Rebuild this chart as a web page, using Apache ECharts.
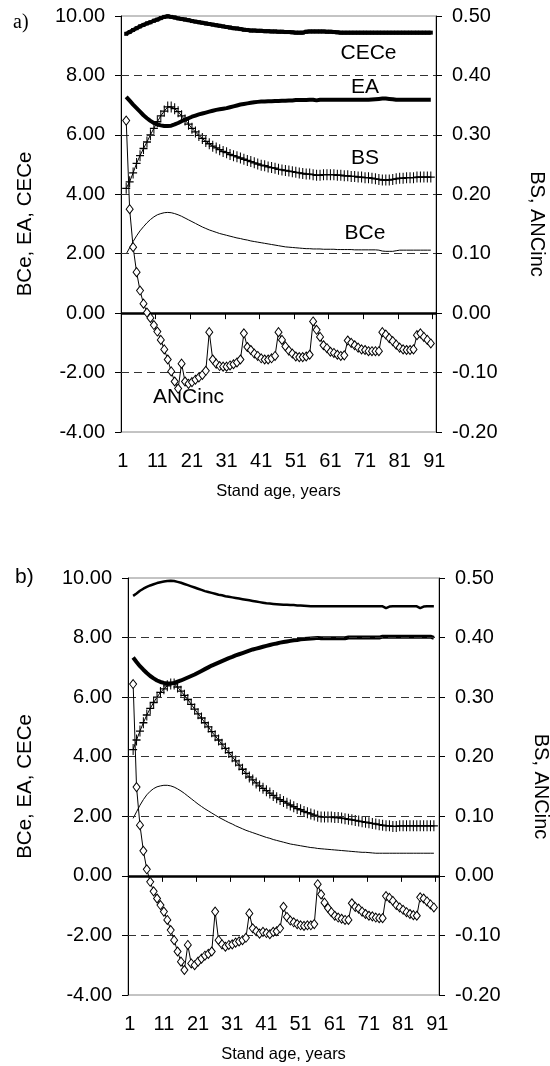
<!DOCTYPE html>
<html>
<head>
<meta charset="utf-8">
<script src="https://cdn.jsdelivr.net/npm/echarts@6/dist/echarts.min.js"></script>
<style>
html,body{margin:0;padding:0;background:#fff;}
#chart{width:550px;height:1066px;}
</style>
</head>
<body>
<div id="chart"></div>
<script>
// ---- data ----
const ages = Array.from({length: 91}, (_, i) => String(i + 1)); // categories 1..91
const xTickLabels = ['1','11','21','31','41','51','61','71','81','91'];

// Panel a) values for stand ages 2..90
const cece_a = [9.40,9.46,9.53,9.59,9.65,9.70,9.75,9.79,9.84,9.88,
  9.93,9.97,9.99,9.97,9.95,9.92,9.90,9.88,9.86,9.83,
  9.81,9.79,9.77,9.75,9.73,9.71,9.69,9.67,9.65,9.63,
  9.61,9.59,9.58,9.56,9.54,9.53,9.51,9.51,9.50,9.50,
  9.49,9.49,9.48,9.48,9.47,9.47,9.46,9.46,9.45,9.44,
  9.44,9.44,9.47,9.48,9.48,9.48,9.48,9.48,9.47,9.47,
  9.46,9.45,9.44,9.44,9.44,9.44,9.44,9.44,9.44,9.44,
  9.44,9.44,9.44,9.44,9.44,9.44,9.44,9.44,9.44,9.44,
  9.44,9.44,9.44,9.44,9.44,9.44,9.44,9.44,9.44];
const ea_a = [7.28,7.15,7.02,6.90,6.78,6.66,6.56,6.47,6.40,6.35,
  6.32,6.30,6.30,6.31,6.35,6.40,6.46,6.51,6.56,6.61,
  6.65,6.69,6.72,6.75,6.78,6.81,6.84,6.86,6.88,6.90,
  6.93,6.96,6.99,7.02,7.04,7.06,7.08,7.10,7.11,7.12,
  7.12,7.13,7.13,7.14,7.14,7.15,7.15,7.16,7.16,7.17,
  7.17,7.17,7.17,7.18,7.18,7.16,7.18,7.18,7.18,7.18,
  7.18,7.18,7.18,7.18,7.18,7.18,7.18,7.18,7.18,7.18,
  7.18,7.19,7.20,7.21,7.22,7.22,7.21,7.20,7.18,7.18,
  7.18,7.18,7.18,7.18,7.18,7.18,7.18,7.18,7.18];
const bs_a = [0.210,0.221,0.236,0.252,0.265,0.277,0.288,0.300,0.311,0.322,
  0.332,0.340,0.347,0.347,0.344,0.339,0.332,0.325,0.318,0.311,
  0.305,0.299,0.294,0.289,0.285,0.281,0.278,0.275,0.272,0.270,
  0.267,0.265,0.263,0.261,0.259,0.257,0.255,0.253,0.251,0.249,
  0.248,0.246,0.245,0.244,0.242,0.241,0.240,0.239,0.238,0.237,
  0.236,0.235,0.234,0.234,0.233,0.232,0.232,0.233,0.233,0.233,
  0.233,0.232,0.232,0.231,0.231,0.230,0.230,0.229,0.229,0.228,
  0.228,0.227,0.226,0.225,0.224,0.224,0.224,0.225,0.226,0.227,
  0.227,0.228,0.228,0.228,0.229,0.229,0.229,0.229,0.229];
const bce_a = [1.99,2.20,2.41,2.60,2.77,2.91,3.04,3.15,3.24,3.31,
  3.35,3.38,3.39,3.38,3.35,3.31,3.26,3.20,3.14,3.08,
  3.02,2.96,2.90,2.85,2.80,2.76,2.72,2.68,2.65,2.62,
  2.59,2.56,2.53,2.51,2.48,2.46,2.43,2.41,2.39,2.37,
  2.35,2.33,2.31,2.29,2.27,2.25,2.23,2.22,2.21,2.20,
  2.19,2.18,2.17,2.17,2.16,2.16,2.16,2.15,2.15,2.15,
  2.15,2.14,2.14,2.14,2.14,2.14,2.13,2.13,2.13,2.13,
  2.13,2.13,2.13,2.12,2.09,2.08,2.08,2.08,2.10,2.12,
  2.12,2.12,2.12,2.12,2.12,2.12,2.12,2.12,2.12];
const anc_a = [0.324,0.175,0.111,0.069,0.038,0.016,0.001,-0.008,-0.020,-0.031,
  -0.045,-0.061,-0.078,-0.098,-0.115,-0.127,-0.085,-0.115,-0.119,-0.116,
  -0.112,-0.108,-0.104,-0.097,-0.032,-0.078,-0.085,-0.089,-0.090,-0.090,
  -0.088,-0.086,-0.083,-0.078,-0.034,-0.057,-0.062,-0.068,-0.072,-0.076,
  -0.078,-0.078,-0.076,-0.072,-0.032,-0.045,-0.056,-0.063,-0.068,-0.073,
  -0.074,-0.074,-0.073,-0.070,-0.014,-0.028,-0.040,-0.054,-0.059,-0.065,
  -0.067,-0.070,-0.072,-0.071,-0.046,-0.050,-0.054,-0.058,-0.061,-0.062,
  -0.064,-0.064,-0.064,-0.064,-0.032,-0.036,-0.042,-0.047,-0.053,-0.058,
  -0.061,-0.062,-0.062,-0.061,-0.037,-0.034,-0.040,-0.045,-0.051];

// Panel b) values for stand ages 2..90
const cece_b = [9.40,9.48,9.57,9.64,9.70,9.75,9.79,9.83,9.86,9.88,
  9.90,9.91,9.90,9.87,9.84,9.80,9.76,9.72,9.68,9.64,
  9.60,9.56,9.53,9.50,9.47,9.44,9.42,9.39,9.37,9.35,
  9.33,9.31,9.29,9.27,9.25,9.23,9.21,9.19,9.17,9.15,
  9.14,9.13,9.12,9.11,9.10,9.10,9.09,9.09,9.08,9.08,
  9.07,9.06,9.05,9.05,9.05,9.05,9.05,9.05,9.05,9.05,
  9.05,9.05,9.05,9.05,9.05,9.05,9.05,9.05,9.05,9.05,
  9.05,9.05,9.05,9.05,8.99,9.04,9.05,9.05,9.05,9.05,
  9.05,9.05,9.05,9.05,8.99,9.04,9.05,9.05,9.05];
const ea_b = [7.33,7.18,7.04,6.92,6.81,6.71,6.63,6.56,6.51,6.48,
  6.46,6.46,6.48,6.52,6.56,6.61,6.66,6.71,6.76,6.82,
  6.88,6.94,7.00,7.06,7.11,7.16,7.21,7.26,7.31,7.35,
  7.40,7.44,7.48,7.52,7.56,7.60,7.63,7.66,7.69,7.72,
  7.75,7.78,7.80,7.83,7.85,7.87,7.89,7.91,7.92,7.94,
  7.95,7.96,7.97,7.98,7.99,7.98,7.98,7.98,7.98,7.98,
  7.98,7.98,7.98,8.00,8.00,8.00,8.00,8.00,8.00,8.00,
  8.00,8.00,8.00,8.03,8.03,8.03,8.03,8.03,8.03,8.03,
  8.03,8.03,8.03,8.03,8.03,8.03,8.03,8.03,7.99];
const bs_b = [0.212,0.228,0.243,0.257,0.270,0.281,0.291,0.300,0.308,0.314,
  0.319,0.322,0.322,0.317,0.310,0.303,0.296,0.288,0.280,0.272,
  0.265,0.257,0.250,0.242,0.235,0.228,0.221,0.214,0.207,0.200,
  0.193,0.186,0.179,0.172,0.166,0.161,0.156,0.151,0.147,0.143,
  0.139,0.135,0.131,0.128,0.125,0.122,0.119,0.116,0.113,0.111,
  0.108,0.106,0.104,0.102,0.100,0.099,0.099,0.099,0.099,0.098,
  0.098,0.097,0.096,0.095,0.094,0.093,0.092,0.091,0.090,0.089,
  0.088,0.087,0.086,0.085,0.084,0.084,0.083,0.083,0.084,0.084,
  0.084,0.084,0.084,0.084,0.084,0.084,0.084,0.084,0.084];
const bce_b = [1.93,2.15,2.37,2.56,2.72,2.84,2.93,2.99,3.02,3.04,
  3.04,3.02,2.98,2.92,2.85,2.77,2.68,2.59,2.50,2.41,
  2.33,2.25,2.18,2.11,2.04,1.97,1.91,1.85,1.79,1.74,
  1.68,1.63,1.58,1.53,1.49,1.45,1.41,1.37,1.33,1.29,
  1.26,1.22,1.19,1.16,1.13,1.10,1.07,1.05,1.03,1.01,
  0.99,0.97,0.95,0.94,0.92,0.91,0.90,0.89,0.88,0.87,
  0.86,0.85,0.84,0.83,0.82,0.81,0.80,0.79,0.79,0.78,
  0.77,0.76,0.76,0.76,0.76,0.76,0.76,0.76,0.76,0.76,
  0.76,0.76,0.76,0.76,0.76,0.76,0.76,0.76,0.76];
const anc_b = [0.322,0.149,0.085,0.042,0.011,-0.010,-0.026,-0.038,-0.049,-0.060,
  -0.074,-0.091,-0.108,-0.127,-0.144,-0.158,-0.116,-0.147,-0.150,-0.144,
  -0.139,-0.134,-0.131,-0.127,-0.060,-0.108,-0.115,-0.119,-0.116,-0.115,
  -0.112,-0.110,-0.108,-0.104,-0.063,-0.088,-0.093,-0.097,-0.094,-0.096,
  -0.098,-0.094,-0.093,-0.088,-0.052,-0.069,-0.075,-0.078,-0.081,-0.083,
  -0.084,-0.083,-0.083,-0.081,-0.014,-0.031,-0.045,-0.054,-0.061,-0.067,
  -0.070,-0.072,-0.074,-0.074,-0.046,-0.052,-0.055,-0.060,-0.064,-0.067,
  -0.068,-0.070,-0.071,-0.071,-0.034,-0.037,-0.042,-0.049,-0.053,-0.057,
  -0.061,-0.064,-0.066,-0.067,-0.036,-0.038,-0.043,-0.048,-0.053];

const leftTicks = [-4, 10, 2];     // min, max, interval
const rightTicks = [-0.2, 0.5, 0.1];
const gridLevels = [8, 6, 4, 2, -2];

// ---- chart ----
const FONT = '"Liberation Sans", Arial, sans-serif';
const pad = a => [null].concat(a);
const PLUS = 'path://M4.35,0H5.65V4.4H10V5.6H5.65V10H4.35V5.6H0V4.4H4.35Z';

function xAxisFor(gi) {
  return {
    type: 'category', gridIndex: gi, data: ages, boundaryGap: true,
    axisLine: {lineStyle: {color: '#000', width: 1}},
    axisTick: {show: true, interval: 9, length: 6, lineStyle: {color: '#000'}},
    axisLabel: {interval: 9, color: '#000', fontSize: 20, fontFamily: FONT, margin: 19,
      formatter: v => xTickLabels.indexOf(v) >= 0 ? v : ''},
    splitLine: {show: false},
    name: 'Stand age, years', nameLocation: 'middle', nameGap: 51,
    nameTextStyle: {color: '#000', fontSize: 16.5, fontFamily: FONT}
  };
}
function yAxisFor(gi, side, t, name, gap, nsize) {
  return {
    type: 'value', gridIndex: gi, position: side, min: t[0], max: t[1], interval: t[2],
    axisLine: {show: true, onZero: false, lineStyle: {color: '#000', width: 1}},
    axisTick: {show: true, length: 6, lineStyle: {color: '#000'}},
    axisLabel: {color: '#000', fontSize: 20, fontFamily: FONT, margin: 16,
      formatter: v => Number(v).toFixed(2)},
    splitLine: {show: false},
    name: name, nameLocation: 'middle', nameGap: gap, nameRotate: side === 'left' ? 90 : -90,
    nameTextStyle: {color: '#000', fontSize: nsize, fontFamily: FONT}
  };
}

function gridMarkLine() {
  return {
    silent: true, symbol: 'none', label: {show: false},
    lineStyle: {color: '#333', width: 1, type: [8, 5]},
    data: gridLevels.map(v => ({yAxis: v})).concat([
      {yAxis: 0, lineStyle: {color: '#000', width: 2.5, type: 'solid'}}
    ])
  };
}
function textMark(txt, x, y) {
  return {
    silent: true, symbol: 'circle', symbolSize: 0,
    label: {show: true, position: 'inside', formatter: txt, color: '#000', fontSize: 21, fontFamily: FONT},
    data: [{coord: [x, y]}]
  };
}

function panelSeries(gi, d, withLabels, ceceStyle) {
  const xi = gi, yl = gi * 2, yr = gi * 2 + 1;
  return [
    {type: 'line', name: 'BCe', xAxisIndex: xi, yAxisIndex: yl, data: pad(d.bce),
      symbol: 'none', lineStyle: {color: '#000', width: 1}, itemStyle: {color: '#000'},
      markLine: gridMarkLine(), markPoint: withLabels ? textMark('BCe', '71', 2.69) : undefined, z: 3},
    {type: 'line', name: 'CECe', xAxisIndex: xi, yAxisIndex: yl, data: pad(d.cece),
      symbol: ceceStyle.symbol, symbolSize: ceceStyle.symbolSize, showAllSymbol: true,
      lineStyle: {color: '#000', width: ceceStyle.width}, itemStyle: {color: '#000'},
      markPoint: withLabels ? textMark('CECe', '72', 8.76) : undefined, z: 3},
    {type: 'line', name: 'EA', xAxisIndex: xi, yAxisIndex: yl, data: pad(d.ea),
      symbol: 'none', lineStyle: {color: '#000', width: 4}, itemStyle: {color: '#000'},
      markPoint: withLabels ? textMark('EA', '71', 7.60) : undefined, z: 3},
    {type: 'line', name: 'BS', xAxisIndex: xi, yAxisIndex: yr, data: pad(d.bs),
      symbol: PLUS, symbolSize: [8, 11], showAllSymbol: true,
      lineStyle: {color: '#000', width: 1}, itemStyle: {color: '#000'},
      markPoint: withLabels ? textMark('BS', '71', 0.2605) : undefined, z: 4},
    {type: 'line', name: 'ANCinc', xAxisIndex: xi, yAxisIndex: yr, data: pad(d.anc),
      symbol: 'diamond', symbolSize: [7, 9], showAllSymbol: true,
      lineStyle: {color: '#000', width: 1},
      itemStyle: {color: '#fff', borderColor: '#000', borderWidth: 1},
      markPoint: withLabels ? textMark('ANCinc', '20', -0.142) : undefined, z: 5}
  ];
}

const chart = echarts.init(document.getElementById('chart'), null, {renderer: 'canvas'});
chart.setOption({
  animation: false,
  backgroundColor: '#fff',
  textStyle: {fontFamily: FONT},
  grid: [
    {left: 121, right: 114, top: 16, height: 416, outerBoundsMode: 'none', containLabel: false,
      show: true, borderColor: '#888', borderWidth: 1, backgroundColor: 'transparent'},
    {left: 128, right: 111, top: 578, height: 417, outerBoundsMode: 'none', containLabel: false,
      show: true, borderColor: '#888', borderWidth: 1, backgroundColor: 'transparent'}
  ],
  xAxis: [xAxisFor(0), xAxisFor(1)],
  yAxis: [
    yAxisFor(0, 'left', leftTicks, 'BCe, EA, CECe', 85, 20.5),
    yAxisFor(0, 'right', rightTicks, 'BS, ANCinc', 91, 20),
    yAxisFor(1, 'left', leftTicks, 'BCe, EA, CECe', 92, 20.5),
    yAxisFor(1, 'right', rightTicks, 'BS, ANCinc', 92, 20)
  ],
  graphic: [
    {type: 'text', left: 13, top: 13, style: {text: 'a)', font: '20px "Liberation Serif", "Times New Roman", serif', fill: '#000'}},
    {type: 'text', left: 15, top: 567, style: {text: 'b)', font: '21px ' + FONT, fill: '#000'}}
  ],
  series: panelSeries(0, {cece: cece_a, ea: ea_a, bs: bs_a, bce: bce_a, anc: anc_a}, true,
      {symbol: 'rect', symbolSize: 4, width: 4})
    .concat(panelSeries(1, {cece: cece_b, ea: ea_b, bs: bs_b, bce: bce_b, anc: anc_b}, false,
      {symbol: 'none', symbolSize: 0, width: 2.5}))
});
</script>
</body>
</html>
